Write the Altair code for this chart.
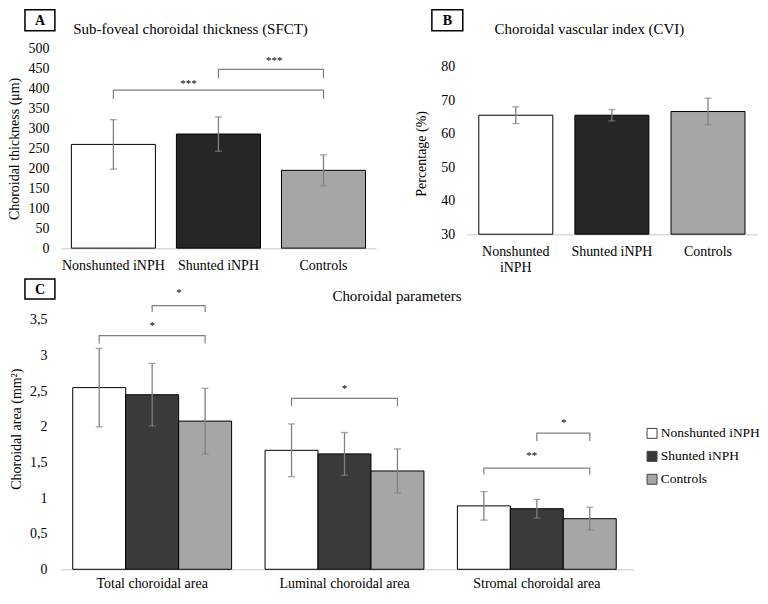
import altair as alt
import pandas as pd

FONT = "Liberation Serif"
GRAY = "#808080"

# ---------------- data ----------------
groups = ["Nonshunted iNPH", "Shunted iNPH", "Controls"]
sfct_mean = [260, 286, 195]
sfct_sd = [62, 43, 39]
cvi_mean = [65.5, 65.5, 66.6]
cvi_sd = [2.5, 1.7, 4.0]

params = ["Total choroidal area", "Luminal choroidal area", "Stromal choroidal area"]
area_nonshunted = [2.55, 1.67, 0.89]
area_nonshunted_sd = [0.55, 0.37, 0.20]
area_shunted = [2.45, 1.62, 0.85]
area_shunted_sd = [0.44, 0.30, 0.13]
area_controls = [2.08, 1.38, 0.71]
area_controls_sd = [0.46, 0.31, 0.16]

# significance brackets
brA_from = ["Nonshunted iNPH", "Shunted iNPH"]
brA_to = ["Controls", "Controls"]
brA_level = [396, 448]
brA_tick = [374, 426]
brA_star = [412, 468]
brA_label = ["***", "***"]

brC_param = ["Total choroidal area", "Total choroidal area", "Luminal choroidal area",
             "Stromal choroidal area", "Stromal choroidal area"]
brC_from = ["Nonshunted iNPH", "Shunted iNPH", "Nonshunted iNPH", "Shunted iNPH", "Nonshunted iNPH"]
brC_to = ["Controls"] * 5
brC_level = [3.28, 3.70, 2.40, 1.91, 1.42]
brC_tick = [3.17, 3.61, 2.29, 1.80, 1.33]
brC_star = [3.42, 3.88, 2.53, 2.05, 1.59]
brC_label = ["*", "*", "*", "*", "**"]

# ---------------- tables ----------------
dfA = pd.DataFrame({"group": groups, "mean": sfct_mean, "sd": sfct_sd})
dfB = pd.DataFrame({"group": groups, "mean": cvi_mean, "sd": cvi_sd})
rowsC = []
for i, p in enumerate(params):
    for g, m, s in zip(groups,
                       [area_nonshunted[i], area_shunted[i], area_controls[i]],
                       [area_nonshunted_sd[i], area_shunted_sd[i], area_controls_sd[i]]):
        rowsC.append({"param": p, "group": g, "mean": m, "sd": s})
dfC = pd.DataFrame(rowsC)

linesA = []
for k in range(len(brA_from)):
    pts = [(brA_from[k], brA_tick[k]), (brA_from[k], brA_level[k]),
           (brA_to[k], brA_level[k]), (brA_to[k], brA_tick[k])]
    for o, (g, y) in enumerate(pts):
        linesA.append({"id": k, "group": g, "y": y, "o": o})
linesA = pd.DataFrame(linesA)

linesC = []
for k in range(len(brC_from)):
    pts = [(brC_from[k], brC_tick[k]), (brC_from[k], brC_level[k]),
           (brC_to[k], brC_level[k]), (brC_to[k], brC_tick[k])]
    for o, (g, y) in enumerate(pts):
        linesC.append({"id": k, "param": brC_param[k], "group": g, "y": y, "o": o})
linesC = pd.DataFrame(linesC)

starsA = pd.DataFrame({"group": ["Shunted iNPH", "Shunted iNPH"], "y": brA_star, "label": brA_label})
starsC = pd.DataFrame({"param": brC_param, "group": ["Shunted iNPH"] * 5, "y": brC_star, "label": brC_label})

# ---------------- helpers ----------------
xaxis = dict(title=None, labelAngle=0, ticks=False, domainColor="#d9d9d9", domainWidth=1.5,
             labelFont=FONT, labelFontSize=14, labelColor="black")
yaxis = dict(domain=False, ticks=False, grid=False, labelFont=FONT, labelFontSize=14,
             labelColor="black", titleFont=FONT, titleFontSize=14, titleFontWeight="normal",
             titleColor="black")


def panel_label(letter, x, x2, y, y2):
    d = pd.DataFrame({"t": [letter]})
    box = alt.Chart(d).mark_rect(fill="white", stroke="black", strokeWidth=1.5).encode(
        x=alt.value(x), x2=alt.value(x2), y=alt.value(y), y2=alt.value(y2))
    txt = alt.Chart(d).mark_text(font=FONT, fontSize=14, fontWeight="bold", color="black").encode(
        x=alt.value((x + x2) / 2), y=alt.value((y + y2) / 2 + 1), text="t:N")
    return box + txt


def title_text(t, x, y):
    d = pd.DataFrame({"t": [t]})
    return alt.Chart(d).mark_text(font=FONT, fontSize=15, color="black").encode(
        x=alt.value(x), y=alt.value(y), text="t:N")


# ---------------- panel A ----------------
WA, HA = 316, 200
xA = alt.X("group:N", sort=groups, scale=alt.Scale(paddingInner=0.2, paddingOuter=0.1),
           axis=alt.Axis(labelPadding=10, **xaxis))
yA_scale = alt.Scale(domain=[0, 500], nice=False)
yA_axis = alt.Axis(values=list(range(0, 501, 50)), title="Choroidal thickness (μm)",
                   titlePadding=6, labelPadding=12, **yaxis)

barsA = alt.Chart(dfA).mark_bar(stroke="black", strokeWidth=1).encode(
    x=xA, y=alt.Y("mean:Q", scale=yA_scale, axis=yA_axis),
    fill=alt.Fill("group:N", scale=alt.Scale(domain=groups, range=["white", "#262626", "#a6a6a6"]), legend=None))
errA = alt.Chart(dfA).transform_calculate(lo="datum.mean - datum.sd", hi="datum.mean + datum.sd")
ruleA = errA.mark_rule(color=GRAY, strokeWidth=1.3).encode(
    x=xA, y=alt.Y("lo:Q", scale=yA_scale, axis=yA_axis), y2="hi:Q")
capA1 = errA.mark_tick(color=GRAY, size=7, thickness=1.3, orient="horizontal").encode(
    x=xA, y=alt.Y("lo:Q", scale=yA_scale, axis=yA_axis))
capA2 = errA.mark_tick(color=GRAY, size=7, thickness=1.3, orient="horizontal").encode(
    x=xA, y=alt.Y("hi:Q", scale=yA_scale, axis=yA_axis))
brA = alt.Chart(linesA).mark_line(color=GRAY, strokeWidth=1.2).encode(
    x=xA, y=alt.Y("y:Q", scale=yA_scale, axis=yA_axis), detail="id:N", order="o:Q")
starA1 = alt.Chart(starsA.iloc[[0]]).mark_text(font=FONT, fontSize=11, color="black", dx=-30).encode(
    x=xA, y=alt.Y("y:Q", scale=yA_scale, axis=yA_axis), text="label:N")
starA2 = alt.Chart(starsA.iloc[[1]]).mark_text(font=FONT, fontSize=11, color="black", dx=56).encode(
    x=xA, y=alt.Y("y:Q", scale=yA_scale, axis=yA_axis), text="label:N")

chartA = alt.layer(
    barsA, ruleA, capA1, capA2, brA, starA1, starA2,
    panel_label("A", -36, -6, -39, -18),
    title_text("Sub-foveal choroidal thickness (SFCT)", 130, -20),
).properties(width=WA, height=HA)

# ---------------- panel B ----------------
WB, HB = 291, 186
xB = alt.X("group:N", sort=groups, scale=alt.Scale(paddingInner=0.23, paddingOuter=0.125),
           axis=alt.Axis(labelExpr="datum.label == 'Nonshunted iNPH' ? ['Nonshunted', 'iNPH'] : datum.label",
                         labelLineHeight=16, labelPadding=10, **xaxis))
yB_scale = alt.Scale(domain=[30, 85.36], nice=False, zero=False)
yB_axis = alt.Axis(values=list(range(30, 81, 10)), title="Percentage  (%)", titlePadding=12,
                   labelPadding=12, titleY=105, **yaxis)

barsB = alt.Chart(dfB).mark_bar(stroke="black", strokeWidth=1).encode(
    x=xB, y=alt.Y("mean:Q", scale=yB_scale, axis=yB_axis), y2=alt.datum(30),
    fill=alt.Fill("group:N", scale=alt.Scale(domain=groups, range=["white", "#3a3a3a", "#a6a6a6"]), legend=None))
errB = alt.Chart(dfB).transform_calculate(lo="datum.mean - datum.sd", hi="datum.mean + datum.sd")
ruleB = errB.mark_rule(color=GRAY, strokeWidth=1.3).encode(
    x=xB, y=alt.Y("lo:Q", scale=yB_scale, axis=yB_axis), y2="hi:Q")
capB1 = errB.mark_tick(color=GRAY, size=7, thickness=1.3, orient="horizontal").encode(
    x=xB, y=alt.Y("lo:Q", scale=yB_scale, axis=yB_axis))
capB2 = errB.mark_tick(color=GRAY, size=7, thickness=1.3, orient="horizontal").encode(
    x=xB, y=alt.Y("hi:Q", scale=yB_scale, axis=yB_axis))

chartB = alt.layer(
    barsB, ruleB, capB1, capB2,
    panel_label("B", -35, -4, -39, -18),
    title_text("Choroidal vascular index (CVI)", 123, -20),
).properties(width=WB, height=HB)

# ---------------- panel C ----------------
WC, HC = 574, 250
xC = alt.X("param:N", sort=params,
           scale=alt.Scale(paddingInner=0.174, paddingOuter=0.0753, align=0.41),
           axis=alt.Axis(labelPadding=7, **xaxis))
offC = alt.XOffset("group:N", sort=groups, scale=alt.Scale(domain=groups, paddingInner=0, paddingOuter=0))
yC_scale = alt.Scale(domain=[0, 3.5], nice=False)
yC_axis = alt.Axis(values=[0, 0.5, 1, 1.5, 2, 2.5, 3, 3.5],
                   labelExpr="replace(toString(datum.value), '.', ',')",
                   title="Choroidal area (mm²)", titlePadding=6, labelPadding=14, titleY=109, **yaxis)

barsC = alt.Chart(dfC).mark_bar(stroke="black", strokeWidth=1).encode(
    x=xC, xOffset=offC, y=alt.Y("mean:Q", scale=yC_scale, axis=yC_axis),
    fill=alt.Fill("group:N", sort=groups,
                  scale=alt.Scale(domain=groups, range=["white", "#3a3a3a", "#a6a6a6"]),
                  legend=alt.Legend(title=None, orient="none", legendX=586, legendY=107,
                                    symbolType="square", symbolSize=100, symbolStrokeColor="#404040",
                                    symbolStrokeWidth=1, labelFont=FONT, labelFontSize=13.5,
                                    labelColor="black", labelOffset=2, rowPadding=8)))
errC = alt.Chart(dfC).transform_calculate(lo="datum.mean - datum.sd", hi="datum.mean + datum.sd")
ruleC = errC.mark_rule(color=GRAY, strokeWidth=1.3).encode(
    x=xC, xOffset=offC, y=alt.Y("lo:Q", scale=yC_scale, axis=yC_axis), y2="hi:Q")
capC1 = errC.mark_tick(color=GRAY, size=7, thickness=1.3, orient="horizontal").encode(
    x=xC, xOffset=offC, y=alt.Y("lo:Q", scale=yC_scale, axis=yC_axis))
capC2 = errC.mark_tick(color=GRAY, size=7, thickness=1.3, orient="horizontal").encode(
    x=xC, xOffset=offC, y=alt.Y("hi:Q", scale=yC_scale, axis=yC_axis))
brC = alt.Chart(linesC).mark_line(color=GRAY, strokeWidth=1.2, clip=False).encode(
    x=xC, xOffset=offC, y=alt.Y("y:Q", scale=yC_scale, axis=yC_axis), detail="id:N", order="o:Q")
stC_center = alt.Chart(starsC.iloc[[0, 2]]).mark_text(font=FONT, fontSize=11, color="black").encode(
    x=xC, xOffset=offC, y=alt.Y("y:Q", scale=yC_scale, axis=yC_axis), text="label:N")
stC_right = alt.Chart(starsC.iloc[[1, 3]]).mark_text(font=FONT, fontSize=11, color="black", dx=27).encode(
    x=xC, xOffset=offC, y=alt.Y("y:Q", scale=yC_scale, axis=yC_axis), text="label:N")
stC_left = alt.Chart(starsC.iloc[[4]]).mark_text(font=FONT, fontSize=11, color="black", dx=-5).encode(
    x=xC, xOffset=offC, y=alt.Y("y:Q", scale=yC_scale, axis=yC_axis), text="label:N")

chartC = alt.layer(
    barsC, ruleC, capC1, capC2, brC, stC_center, stC_right, stC_left,
    panel_label("C", -36, -6, -41, -21),
    title_text("Choroidal parameters", 337, -24),
).properties(width=WC, height=HC)

top = alt.hconcat(chartA, chartB, spacing=39)
chart = alt.vconcat(top, chartC, spacing=4).resolve_scale(fill="independent").properties(
    padding=0
).configure(font=FONT).configure_view(stroke=None)

chart.save("out.html", embed_options={"renderer": "svg", "actions": False})
